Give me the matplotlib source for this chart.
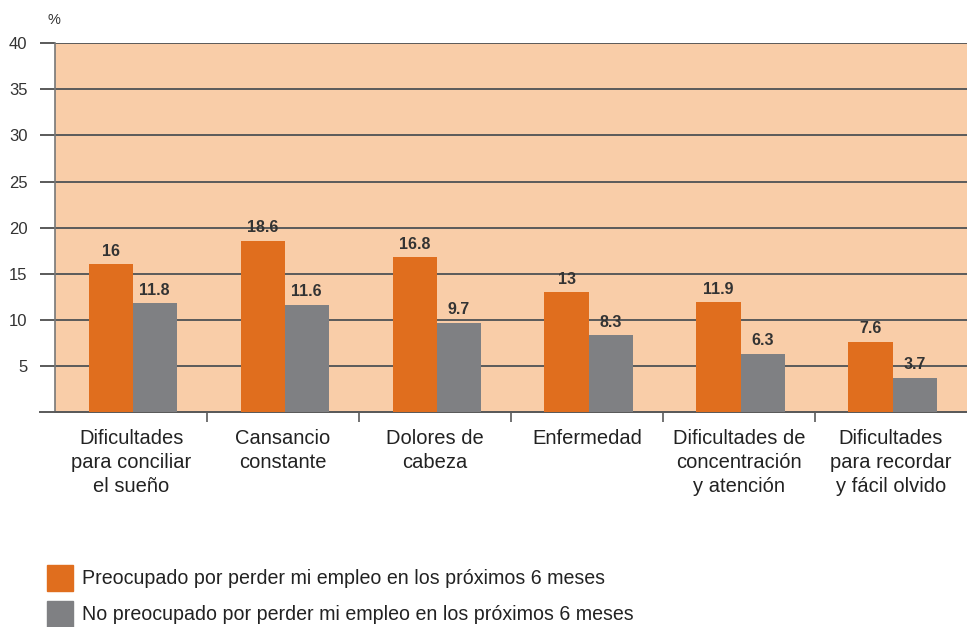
import matplotlib.pyplot as plt
import numpy as np
from matplotlib.patches import Rectangle

categories = [
    "Dificultades\npara conciliar\nel sueño",
    "Cansancio\nconstante",
    "Dolores de\ncabeza",
    "Enfermedad",
    "Dificultades de\nconcentración\ny atención",
    "Dificultades\npara recordar\ny fácil olvido",
]
preocupado = [16, 18.6, 16.8, 13, 11.9, 7.6]
no_preocupado = [11.8, 11.6, 9.7, 8.3, 6.3, 3.7]
series_labels = [
    "Preocupado por perder mi empleo en los próximos 6 meses",
    "No preocupado por perder mi empleo en los próximos 6 meses",
]
yticks = [5, 10, 15, 20, 25, 30, 35, 40]

orange = "#E06E1E"
gray = "#7F8083"
peach = "#F9CDA8"
font = ["Liberation Sans", "DejaVu Sans"]
plt.rcParams["font.family"] = font

fig = plt.figure(figsize=(9.67, 6.27), dpi=100)
ax = fig.add_axes([0.057, 0.343, 0.943, 0.588])
ax.set_facecolor(peach)

x = np.arange(len(categories))
w = 0.29
b1 = ax.bar(x - w / 2 + 0.01, preocupado, w, color=orange, zorder=3)
b2 = ax.bar(x + w / 2 + 0.01, no_preocupado, w, color=gray, zorder=3)

for bars, vals in [(b1, preocupado), (b2, no_preocupado)]:
    for r, v in zip(bars, vals):
        ax.text(r.get_x() + r.get_width() / 2, v + 0.6, f"{v:g}",
                ha="center", va="bottom", fontsize=11.5, fontweight="bold",
                color="#333333", zorder=4)

ax.set_xlim(-0.5, len(categories) - 0.5)
ax.set_ylim(0, 40)
ax.set_yticks(yticks)
ax.set_yticklabels([str(t) for t in yticks], fontsize=12, color="#333333")
ax.yaxis.grid(True, color="#5a5a5a", linewidth=1.4, zorder=1)
ax.tick_params(axis="y", length=11, width=1.4, color="#5a5a5a", pad=9)

# category labels, with boundary ticks between groups
ax.set_xticks(x)
ax.set_xticklabels(categories, fontsize=14.5, linespacing=1.34, va="top", color="#222222")
ax.tick_params(axis="x", length=0, pad=12)
ax.set_xticks(np.arange(0.5, len(categories) - 0.5), minor=True)
ax.tick_params(axis="x", which="minor", length=7, width=1.2, color="#5a5a5a")

for s in ["top", "right"]:
    ax.spines[s].set_visible(False)
ax.spines["left"].set_color("#777777")
ax.spines["left"].set_linewidth(1.2)
ax.spines["bottom"].set_color("#5a5a5a")
ax.spines["bottom"].set_linewidth(1.4)
ax.axhline(0, xmin=-0.017, xmax=1, color="#5a5a5a", linewidth=1.4, clip_on=False)

fig.text(0.049, 0.962, "%", fontsize=10.5, color="#333333")

# legend drawn by hand at the bottom left
for i, (lab, col) in enumerate(zip(series_labels, [orange, gray])):
    y0 = 0.0574 - i * 0.0574
    fig.patches.append(Rectangle((0.0486, y0), 0.0269, 0.0415, color=col,
                                 transform=fig.transFigure, figure=fig))
    fig.text(0.085, y0 + 0.0207, lab, fontsize=14.1, va="center", color="#222222")

fig.savefig("out.png", dpi=100)
